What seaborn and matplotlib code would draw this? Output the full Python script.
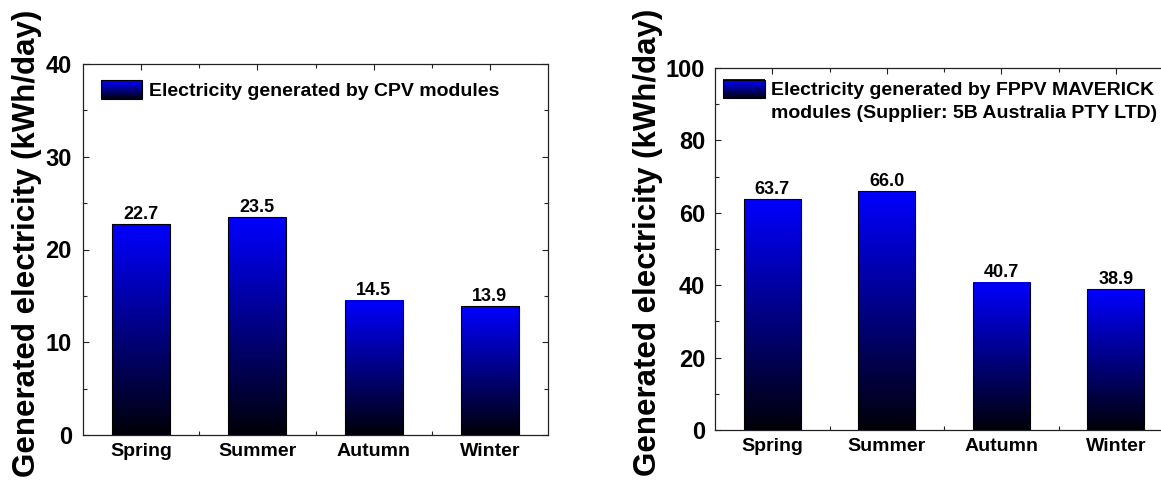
import numpy as np
import matplotlib
matplotlib.use('Agg')
import matplotlib.pyplot as plt
import seaborn as sns
from matplotlib.colors import LinearSegmentedColormap
from matplotlib.legend_handler import HandlerBase
from matplotlib.patches import Rectangle
from matplotlib.ticker import MultipleLocator, FixedLocator

seasons = ['Spring', 'Summer', 'Autumn', 'Winter']
cpv = [22.7, 23.5, 14.5, 13.9]
fppv = [63.7, 66.0, 40.7, 38.9]
cpv_label = 'Electricity generated by CPV modules'
fppv_label = 'Electricity generated by FPPV MAVERICK\nmodules (Supplier: 5B Australia PTY LTD)'
ylabel = 'Generated electricity (kWh/day)'

sns.set_theme(style='ticks')
plt.rcParams['font.family'] = ['Liberation Sans', 'DejaVu Sans']
plt.rcParams['font.weight'] = 'bold'
for key in ['text.color', 'axes.labelcolor', 'xtick.color', 'ytick.color']:
    plt.rcParams[key] = 'black'

blue_black = LinearSegmentedColormap.from_list('blue_black', ['#000008', '#0000ff'])
grad = np.linspace(0, 1, 256).reshape(-1, 1)


class GradientHandler(HandlerBase):
    # legend key drawn as stacked strips so it fades like the bars
    def __init__(self, dy=0.0, **kw):
        super().__init__(**kw)
        self.dy = dy

    def create_artists(self, legend, orig_handle, xdescent, ydescent,
                       width, height, fontsize, trans):
        n = 30
        y0 = -ydescent + self.dy * fontsize
        arts = []
        for i in range(n):
            r = Rectangle((-xdescent, y0 + height * i / n), width, height / n + 0.3,
                          facecolor=blue_black((i + 0.5) / n), linewidth=0, transform=trans)
            arts.append(r)
        arts.append(Rectangle((-xdescent, y0), width, height, fill=False,
                              edgecolor='black', linewidth=0.8, transform=trans))
        return arts


def draw_panel(ax, values, ymax, major, label, leg_anchor, dy, ypad):
    sns.barplot(x=seasons, y=values, ax=ax, color='blue', width=0.5,
                edgecolor='black', linewidth=0.8, zorder=3)
    for bar in ax.patches:
        x, w, h = bar.get_x(), bar.get_width(), bar.get_height()
        ax.imshow(grad, extent=[x, x + w, 0, h], origin='lower', aspect='auto',
                  cmap=blue_black, zorder=3.5)
        bar.set_facecolor('none')
        bar.set_zorder(4)
    ax.bar_label(ax.containers[0], fmt='%.1f', padding=1, fontsize=13, fontweight='bold')
    ax.set_xlim(-0.5, 3.5)
    ax.set_ylim(0, ymax)
    ax.yaxis.set_major_locator(MultipleLocator(major))
    ax.yaxis.set_minor_locator(MultipleLocator(major / 2))
    ax.xaxis.set_minor_locator(FixedLocator([0.5, 1.5, 2.5]))
    ax.tick_params(which='both', direction='in', top=True, right=True, color='#222222')
    ax.tick_params(which='major', length=4.5, width=0.8)
    ax.tick_params(which='minor', length=3, width=0.8)
    ax.tick_params(axis='y', labelsize=17, pad=ypad)
    ax.tick_params(axis='x', labelsize=14, pad=6)
    for t in ax.get_xticklabels() + ax.get_yticklabels():
        t.set_fontweight('bold')
    for s in ax.spines.values():
        s.set_linewidth(0.9)
        s.set_color('#222222')
    ax.set_xlabel('')
    ax.set_ylabel(ylabel, fontsize=22.5, fontweight='bold', va='center')
    leg = ax.legend([Rectangle((0, 0), 1, 1)], [label],
                    handler_map={Rectangle: GradientHandler(dy)},
                    loc='upper left', bbox_to_anchor=leg_anchor, frameon=False, fontsize=14,
                    handlelength=2.15, handleheight=1.1, handletextpad=0.35,
                    borderpad=0, borderaxespad=0)
    leg.get_texts()[0].set_linespacing(1.45)


fig = plt.figure(figsize=(11.61, 4.8), dpi=100)
ax1 = fig.add_axes([83 / 1161, 45 / 480, 465 / 1161, 371 / 480])
ax2 = fig.add_axes([715 / 1161, 50 / 480, 458 / 1161, 362 / 480])

draw_panel(ax1, cpv, 40, 10, cpv_label, (0.038, 0.956), 0.0, 8)
draw_panel(ax2, fppv, 100, 20, fppv_label, (0.017, 0.962), 0.64, 7)
ax1.yaxis.set_label_coords(-0.12, 0.517)
ax2.yaxis.set_label_coords(-0.147, 0.517)

fig.savefig('out.png', dpi=100)
